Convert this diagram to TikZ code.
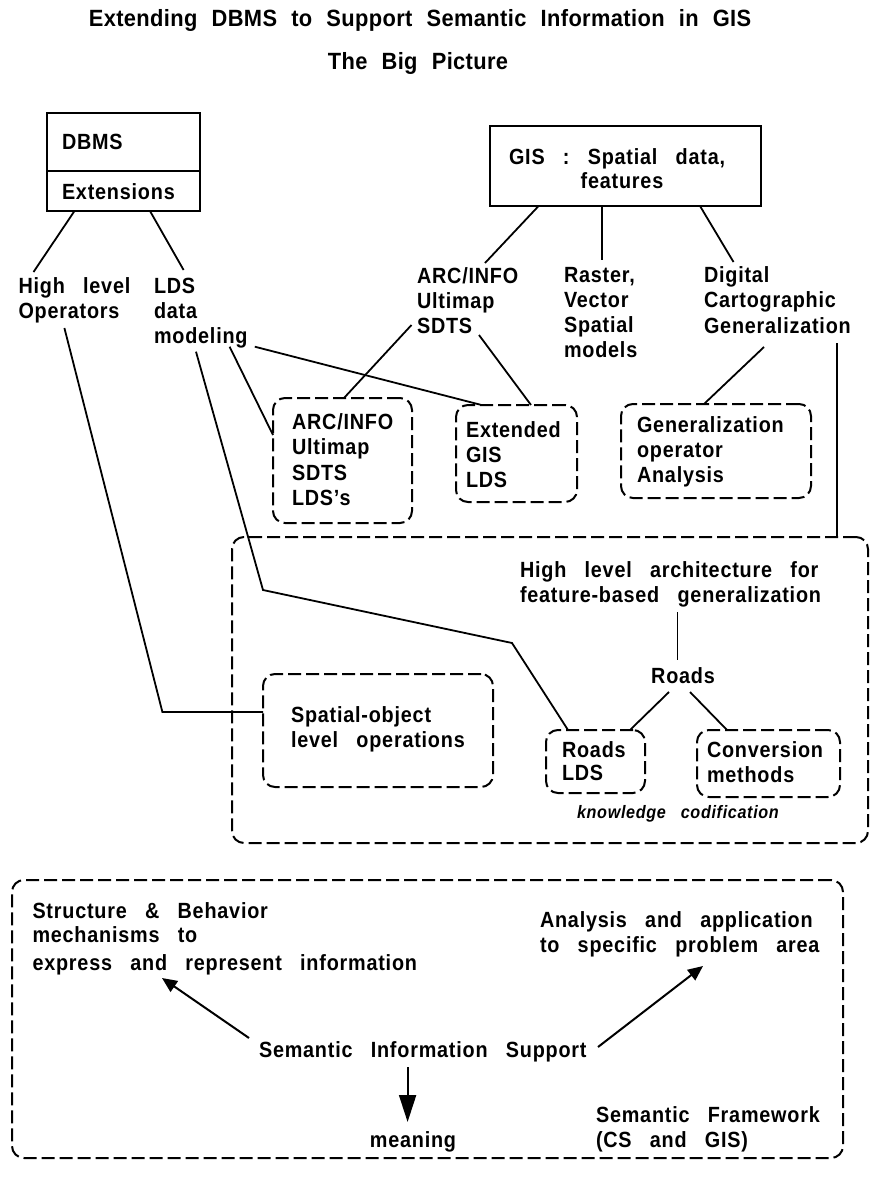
\documentclass[tikz,border=0pt]{standalone}
\usepackage{fontspec}
\setmainfont[LetterSpace=3.6,WordSpace=2.9,FakeStretch=0.9]{Liberation Sans}
\newfontfamily\titlefont[LetterSpace=1.6,WordSpace=2.2,FakeStretch=0.93]{Liberation Sans}
\usetikzlibrary{arrows.meta}

\begin{document}
\begin{tikzpicture}[x=1pt,y=-1pt,
  txt/.style={anchor=base west,inner sep=0pt,outer sep=0pt,font=\fontsize{22}{26}\selectfont\bfseries},
  ctxt/.style={txt,anchor=base},
  kc/.style={txt,font=\fontsize{18}{21}\selectfont\bfseries\itshape},
  ttl/.style={anchor=base,inner sep=0pt,font=\titlefont\fontsize{23.5}{28}\selectfont\bfseries},
  solidbox/.style={draw,line width=2pt,inner sep=0pt,outer sep=0pt,anchor=north west},
  dbox/.style={draw,line width=2pt,dash pattern=on 13pt off 5pt,rounded corners=12pt,
    inner sep=0pt,outer sep=0pt,anchor=north west},
  conn/.style={line width=1.8pt},
  arr/.style={line width=2pt,-{Triangle[length=15pt,width=13pt]}},
  bigarr/.style={line width=2pt,-{Triangle[length=27pt,width=17pt]}}
]
\fill[white] (0,0) rectangle (878,1177);
\useasboundingbox (0,0) rectangle (878,1177);

% headings
\node[ttl] (title) at (420,27) {Extending DBMS to Support Semantic Information in GIS};
\node[ttl] (subtitle) at (418,70) {The Big Picture};

% DBMS box with its extensions compartment
\node[solidbox,minimum width=153pt,minimum height=98pt] (dbms) at (47,113) {};
\draw[conn] ([yshift=-58pt]dbms.north west) -- ([yshift=-58pt]dbms.north east);
\node[txt] (tdbms) at (62,150) {DBMS};
\node[txt] (text) at (62,200) {Extensions};

% GIS box
\node[solidbox,minimum width=271pt,minimum height=80pt] (gis) at (490,126) {};
\node[txt] (tgis1) at (509,165) {GIS : Spatial data,};
\node[ctxt] (tgis2) at (622,189) {features};

% labels under the DBMS box
\node[txt] (hl1) at (18.5,293) {High level};
\node[txt] (hl2) at (18.5,318) {Operators};
\node[txt] (lds1) at (154,293) {LDS};
\node[txt] (lds2) at (154,318) {data};
\node[txt] (lds3) at (154,343) {modeling};

% labels under the GIS box
\node[txt] (arc1) at (417,283) {ARC/INFO};
\node[txt] (arc2) at (417,308) {Ultimap};
\node[txt] (arc3) at (417,333) {SDTS};
\node[txt] (ras1) at (564,282) {Raster,};
\node[txt] (ras2) at (564,307) {Vector};
\node[txt] (ras3) at (564,332) {Spatial};
\node[txt] (ras4) at (564,357) {models};
\node[txt] (dig1) at (704,282) {Digital};
\node[txt] (dig2) at (704,307) {Cartographic};
\node[txt] (dig3) at (704,333) {Generalization};

% dashed boxes of the middle row
\node[dbox,minimum width=139pt,minimum height=125pt] (arcbox) at (273,398) {};
\node[txt] (ab1) at (292,429) {ARC/INFO};
\node[txt] (ab2) at (292,454) {Ultimap};
\node[txt] (ab3) at (292,480) {SDTS};
\node[txt] (ab4) at (292,505) {LDS's};

\node[dbox,minimum width=121pt,minimum height=97pt] (extbox) at (456,405) {};
\node[txt] (eb1) at (466,437) {Extended};
\node[txt] (eb2) at (466,462) {GIS};
\node[txt] (eb3) at (466,487) {LDS};

\node[dbox,minimum width=190pt,minimum height=94pt] (genbox) at (621,404) {};
\node[txt] (gb1) at (637,432) {Generalization};
\node[txt] (gb2) at (637,457) {operator};
\node[txt] (gb3) at (637,482) {Analysis};

% architecture box
\node[dbox,minimum width=636pt,minimum height=306pt] (archbox) at (232,537) {};
\node[txt] (arch1) at (520,577) {High level architecture for};
\node[txt] (arch2) at (520,602) {feature-based generalization};
\node[ctxt] (roads) at (683,683) {Roads};

\node[dbox,minimum width=230pt,minimum height=113pt] (spbox) at (263,674) {};
\node[txt] (sp1) at (291,722) {Spatial-object};
\node[txt] (sp2) at (291,747) {level operations};

\node[dbox,minimum width=99pt,minimum height=63pt] (roadsbox) at (546,730) {};
\node[txt] (rb1) at (562,757) {Roads};
\node[txt] (rb2) at (562,780) {LDS};

\node[dbox,minimum width=143pt,minimum height=67pt] (convbox) at (697,730) {};
\node[txt] (cb1) at (707,757) {Conversion};
\node[txt] (cb2) at (707,782) {methods};

\node[kc] (know) at (577,818) {knowledge codification};

% semantic framework box
\node[dbox,minimum width=831pt,minimum height=278pt] (semf) at (12,880) {};
\node[txt] (st1) at (32.5,918) {Structure \& Behavior};
\node[txt] (st2) at (32.5,942) {mechanisms to};
\node[txt] (st3) at (32.5,970) {express and represent information};
\node[txt] (an1) at (540,927) {Analysis and application};
\node[txt] (an2) at (540,952) {to specific problem area};
\node[txt] (sis) at (259,1057) {Semantic Information Support};
\node[ctxt] (mean) at (413,1147) {meaning};
\node[txt] (sf1) at (596,1122) {Semantic Framework};
\node[txt] (sf2) at (596,1147) {(CS and GIS)};

% connectors from the DBMS box
\draw[conn] ([xshift=27.5pt]dbms.south west) -- ([xshift=15pt,yshift=21pt]hl1.base west);
\draw[conn] ([xshift=103pt]dbms.south west) -- ([xshift=29.6pt,yshift=23pt]lds1.base west);

% connectors from the GIS box
\draw[conn] ([xshift=48.6pt]gis.south west) -- ([xshift=68pt,yshift=20pt]arc1.base west);
\draw[conn] ([xshift=112pt]gis.south west) -- ([xshift=38pt,yshift=22pt]ras1.base west);
\draw[conn] ([xshift=210pt]gis.south west) -- ([xshift=29.5pt,yshift=20pt]dig1.base west);

% operators to spatial-object level
\coordinate (k1) at (162.4,712);
\draw[conn] ([xshift=45.9pt,yshift=-10pt]hl2.base west) -- (k1) -- (k1 -| spbox.west);

% data modeling to the roads LDS
\coordinate (k2) at (263,590);
\coordinate (k3) at (512,643);
\draw[conn] ([xshift=42pt,yshift=-8.7pt]lds3.base west) -- (k2) -- (k3)
  -- ([xshift=22pt]roadsbox.north west);

% data modeling to the LDS boxes
\draw[conn] ([xshift=75.6pt,yshift=-3.7pt]lds3.base west) -- ([yshift=25.5pt]arcbox.west);
\draw[conn] ([xshift=100.8pt,yshift=-3.7pt]lds3.base west) -- ([xshift=25.5pt]extbox.north west);

% ARC/INFO group to its boxes
\draw[conn] ([xshift=-5.5pt,yshift=8pt]arc3.base west) -- ([xshift=71pt]arcbox.north west);
\draw[conn] ([xshift=62pt,yshift=-2pt]arc3.base west) -- ([xshift=75pt]extbox.north west);

% cartographic generalization links
\draw[conn] ([xshift=60pt,yshift=-14pt]dig3.base west) -- ([xshift=83pt]genbox.north west);
\draw[conn] ([xshift=133pt,yshift=-10pt]dig3.base west) -- ([xshift=-31pt]archbox.north east);

% inside the architecture box
\draw[conn] ([xshift=157.5pt,yshift=-10pt]arch2.base west) -- ([xshift=-5.5pt,yshift=23pt]roads.base);
\draw[conn] ([xshift=-14pt,yshift=-9pt]roads.base) -- ([xshift=-15pt]roadsbox.north east);
\draw[conn] ([xshift=7pt,yshift=-9pt]roads.base) -- ([xshift=30pt]convbox.north west);

% arrows of the semantic framework
\draw[arr] ([xshift=-10pt,yshift=19pt]sis.base west) -- ([xshift=129.5pt,yshift=-8pt]st3.base west);
\draw[arr] ([xshift=339pt,yshift=10pt]sis.base west) -- ([xshift=163pt,yshift=-14pt]an2.base west);
\draw[bigarr] ([xshift=148.6pt,yshift=-10pt]sis.base west) -- ([xshift=-5.4pt,yshift=25pt]mean.base);
\end{tikzpicture}
\end{document}
